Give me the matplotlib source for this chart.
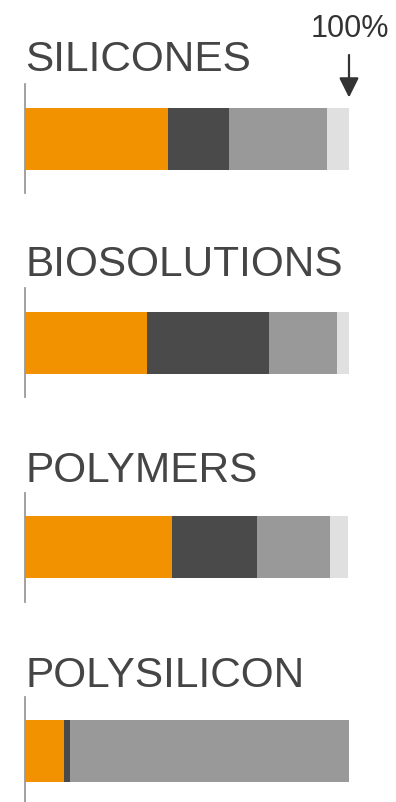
import matplotlib.pyplot as plt

# shares per segment (%)
segments = ['SILICONES', 'BIOSOLUTIONS', 'POLYMERS', 'POLYSILICON']
orange = [44.1, 37.6, 45.3, 12.0]
dark = [18.8, 37.7, 26.3, 1.9]
mid = [30.3, 21.0, 22.6, 86.1]
light = [6.8, 3.7, 5.6, 0.0]
colors = ['#F39200', '#4A4A4A', '#999999', '#E0E0E0']
text_color = '#454545'

plt.rcParams['font.family'] = ['Liberation Sans', 'DejaVu Sans']

W, H = 396, 802
fig = plt.figure(figsize=(W / 100, H / 100), dpi=100)

left, width = 25.3, 323.7
ax_h = 109
for i, name in enumerate(segments):
    top = 84.3 + 204.1 * i
    ax = fig.add_axes([left / W, 1 - (top + ax_h) / H, width / W, ax_h / H])
    x0 = 0
    for vals, c in zip([orange, dark, mid, light], colors):
        ax.barh(0.5, vals[i], left=x0, height=62 / ax_h, color=c, linewidth=0)
        x0 += vals[i]
    ax.set_xlim(0, 100)
    ax.set_ylim(0, 1)
    for s in ['top', 'right', 'bottom']:
        ax.spines[s].set_visible(False)
    ax.spines['left'].set_color('#9a9a9a')
    ax.spines['left'].set_linewidth(1.3)
    ax.set_xticks([])
    ax.set_yticks([])
    ax.patch.set_alpha(0)
    ax.text(0, 1 + (13.3 - 1.3 * i) / ax_h, name, transform=ax.transAxes, fontsize=30.5,
            color=text_color, ha='left', va='baseline')
    if i == 0:
        ax.annotate('', xy=(100, (193.3 - 97.5) / ax_h), xytext=(100, (193.3 - 55) / ax_h),
                    arrowprops=dict(arrowstyle='-|>,head_length=0.6,head_width=0.3',
                                    color='#333333', lw=1.6, mutation_scale=20,
                                    shrinkA=0, shrinkB=0),
                    annotation_clip=False)
        ax.text(100.3, (193.3 - 37.3) / ax_h, '100%', fontsize=22, color='#333333',
                ha='center', va='baseline', clip_on=False)

fig.savefig('out.png', dpi=100)
